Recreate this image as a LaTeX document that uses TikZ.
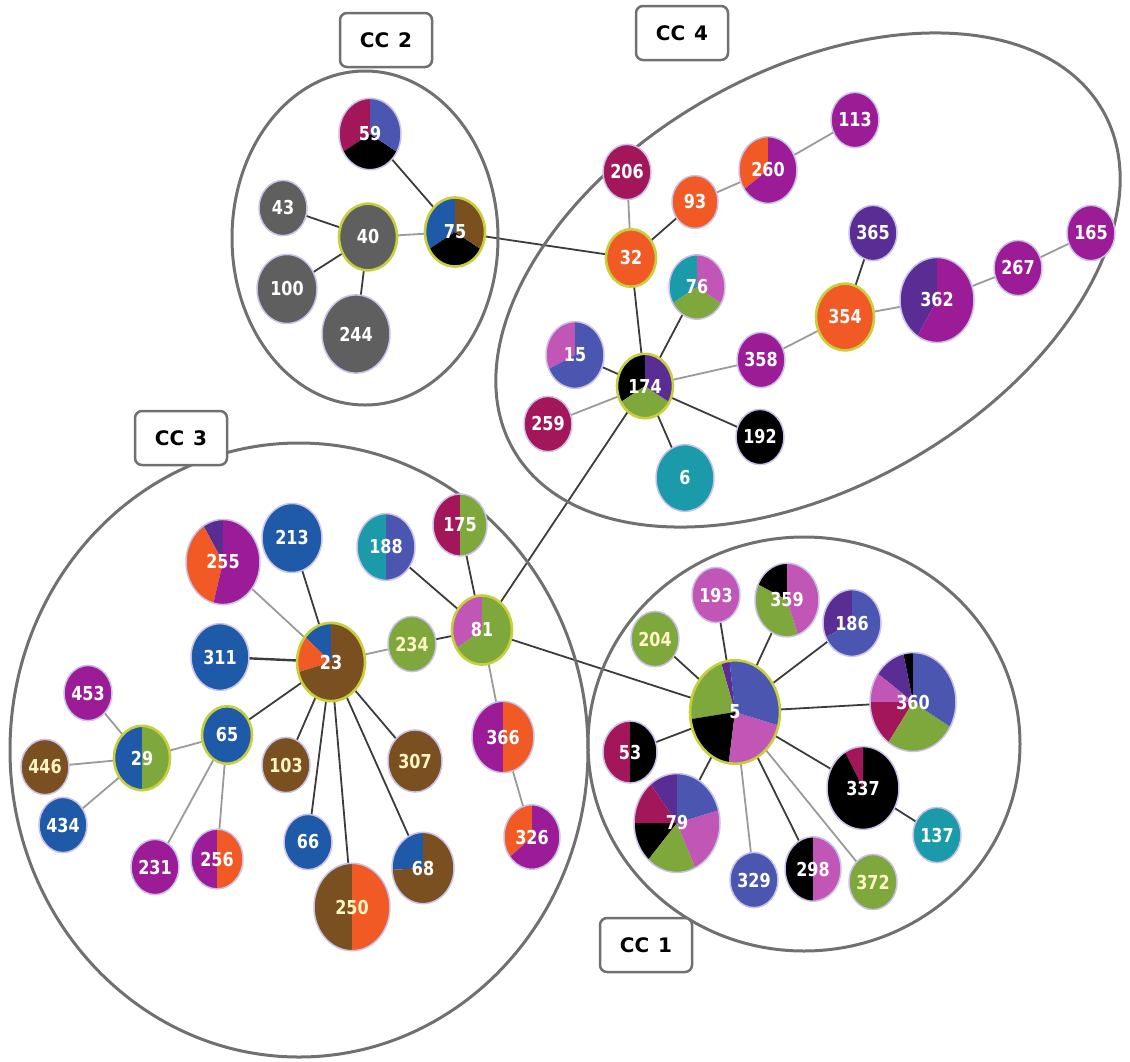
\documentclass[tikz,border=0pt]{standalone}
\usepackage{fontspec}
\setmainfont{DejaVu Sans}
\usetikzlibrary{shapes.geometric,backgrounds}
\definecolor{cgray}{HTML}{5F5F5F}
\definecolor{cpur}{HTML}{9C1C98}
\definecolor{ccrim}{HTML}{A3175A}
\definecolor{corg}{HTML}{F15A24}
\definecolor{cblu}{HTML}{4A56B0}
\definecolor{cdblu}{HTML}{1F5AA8}
\definecolor{cteal}{HTML}{1B9AA9}
\definecolor{cgrn}{HTML}{7EA83C}
\definecolor{cvio}{HTML}{5A2D94}
\definecolor{cpink}{HTML}{C156B6}
\definecolor{cbrn}{HTML}{7B5020}
\definecolor{dkline}{HTML}{3C3C3C}
\definecolor{ltline}{HTML}{9A9A9A}
\definecolor{ringc}{HTML}{C9C0EC}
\definecolor{yelc}{HTML}{C8CF3C}
\definecolor{grpc}{HTML}{707070}
\definecolor{creamc}{HTML}{FFF6C4}
\newcommand\yr{1.15}
\newcommand\crm[1]{\textcolor{creamc}{#1}}
\tikzset{
  edk/.style={draw=dkline, line width=1.8pt},
  elt/.style={draw=ltline, line width=1.8pt},
  ring/.style={draw=ringc, line width=1.5pt},
  hring/.style={draw=yelc, line width=2.6pt},
  lbl/.style={text=white, inner sep=0pt, font=\fontsize{16}{16}\selectfont\bfseries},
  grp/.style={draw=grpc, line width=3pt},
  ccbox/.style={draw=grpc, line width=2.5pt, rounded corners=7pt, fill=white,
    minimum width=92pt, minimum height=54pt, font=\fontsize{20}{20}\selectfont\bfseries}
}
\newcommand\pnode[7]{%
  \node[ellipse, inner sep=0pt, minimum width=#4*2pt, minimum height=#4*2.3pt] (#1) at (#2,-#3) {};
  \pgfmathsetmacro\rx{#4}\pgfmathsetmacro\ry{#4*\yr}%
  \foreach \a/\b/\c in {#6}{\fill[\c] (#1.center) -- ++(\a:\rx pt and \ry pt) arc[start angle=\a,end angle=\b,x radius=\rx pt,y radius=\ry pt] -- cycle;}
  \draw[#7] (#1.center) ellipse[x radius=\rx pt, y radius=\ry pt];
  \node[lbl] (#1l) at (#1.center) {\scalebox{1}[1.2]{#5}};
}
\begin{document}
\begin{tikzpicture}[x=1pt,y=1pt]
\useasboundingbox (0,0) rectangle (1130,-1061);
% groups
\draw[grp] (365,-238) ellipse[x radius=133, y radius=167];
\begin{scope}[shift={(808,-280)}, rotate=30]
\draw[grp] (0,0) ellipse[x radius=340, y radius=207];
\end{scope}
\draw[grp] (299,-750) ellipse[x radius=289, y radius=307];
\draw[grp] (804,-744) ellipse[x radius=216, y radius=207];
% labels
\node[ccbox] (cc2) at (386,-40) {CC\hspace{0.45em}2};
\node[ccbox] (cc4) at (682,-33) {CC\hspace{0.45em}4};
\node[ccbox] (cc3) at (181,-438) {CC\hspace{0.45em}3};
\node[ccbox] (cc1) at (646,-945) {CC\hspace{0.45em}1};
% CC2
\pnode{n59}{370}{134}{31}{59}{90/210/ccrim,210/330/black,330/450/cblu}{ring}
\pnode{n75}{455}{232}{30}{75}{90/210/cdblu,210/330/black,330/450/cbrn}{hring}
\pnode{n40}{368}{237}{29}{40}{0/360/cgray}{hring}
\pnode{n43}{283}{208}{24}{43}{0/360/cgray}{ring}
\pnode{n100}{287}{289}{30}{100}{0/360/cgray}{ring}
\pnode{n244}{356}{334}{34}{244}{0/360/cgray}{ring}
% CC4
\pnode{n113}{855}{120}{24}{113}{0/360/cpur}{ring}
\pnode{n206}{627}{172}{24}{206}{0/360/ccrim}{ring}
\pnode{n260}{768}{170}{29}{260}{90/215/corg,215/450/cpur}{ring}
\pnode{n93}{695}{202}{23}{93}{0/360/corg}{ring}
\pnode{n32}{631}{258}{25}{32}{0/360/corg}{hring}
\pnode{n365}{873}{233}{24}{365}{0/360/cvio}{ring}
\pnode{n165}{1091}{233}{24}{165}{0/360/cpur}{ring}
\pnode{n267}{1018}{268}{24}{267}{0/360/cpur}{ring}
\pnode{n362}{937}{300}{37}{362}{90/238/cvio,238/450/cpur}{ring}
\pnode{n354}{845}{317}{29}{354}{0/360/corg}{hring}
\pnode{n76}{697}{287}{28}{76}{90/210/cteal,210/330/cgrn,330/450/cpink}{ring}
\pnode{n15}{575}{355}{29}{15}{90/205/cpink,205/450/cblu}{ring}
\pnode{n358}{761}{360}{24}{358}{0/360/cpur}{ring}
\pnode{n174}{645}{386}{28}{174}{90/210/black,210/330/cgrn,330/450/cvio}{hring}
\pnode{n259}{548}{424}{24}{259}{0/360/ccrim}{ring}
\pnode{n192}{760}{437}{24}{192}{0/360/black}{ring}
\pnode{n6}{685}{478}{29}{6}{0/360/cteal}{ring}
% CC3
\pnode{n175}{460}{525}{27}{175}{90/270/ccrim,270/450/cgrn}{ring}
\pnode{n188}{386}{547}{29}{188}{90/270/cteal,270/450/cblu}{ring}
\pnode{n213}{292}{538}{30}{213}{0/360/cdblu}{ring}
\pnode{n255}{223}{562}{37}{255}{90/122/cvio,122/255/corg,255/450/cpur}{ring}
\pnode{n311}{220}{657}{29}{311}{0/360/cdblu}{ring}
\pnode{n23}{331}{662}{34}{23}{90/140/cdblu,140/195/corg,195/450/cbrn}{hring}
\pnode{n234}{412}{644}{24}{\crm{234}}{0/360/cgrn}{ring}
\pnode{n81}{482}{630}{30}{81}{90/212/cpink,212/450/cgrn}{hring}
\pnode{n453}{88}{693}{24}{453}{0/360/cpur}{ring}
\pnode{n65}{227}{735}{25}{65}{0/360/cdblu}{hring}
\pnode{n29}{142}{758}{28}{29}{90/270/cdblu,270/450/cgrn}{hring}
\pnode{n446}{45}{767}{24}{\crm{446}}{0/360/cbrn}{ring}
\pnode{n103}{286}{765}{24}{\crm{103}}{0/360/cbrn}{ring}
\pnode{n307}{415}{761}{27}{\crm{307}}{0/360/cbrn}{ring}
\pnode{n366}{503}{737}{31}{366}{90/270/cpur,270/450/corg}{ring}
\pnode{n434}{63}{825}{24}{434}{0/360/cdblu}{ring}
\pnode{n231}{155}{867}{24}{231}{0/360/cpur}{ring}
\pnode{n256}{217}{859}{26}{256}{90/270/cpur,270/450/corg}{ring}
\pnode{n66}{308}{842}{24}{66}{0/360/cdblu}{ring}
\pnode{n68}{423}{868}{31}{68}{90/183/cdblu,183/450/cbrn}{ring}
\pnode{n250}{352}{907}{38}{\crm{250}}{90/270/cbrn,270/450/corg}{ring}
\pnode{n326}{532}{837}{28}{326}{90/218/corg,218/450/cpur}{ring}
% CC1
\pnode{n193}{716}{595}{24}{193}{0/360/cpink}{ring}
\pnode{n359}{787}{600}{32}{359}{90/155/black,155/290/cgrn,290/450/cpink}{ring}
\pnode{n186}{852}{623}{29}{186}{90/205/cvio,205/450/cblu}{ring}
\pnode{n204}{655}{639}{24}{\crm{204}}{0/360/cgrn}{ring}
\pnode{n5}{735}{712}{45}{5}{97/108/cvio,108/188/cgrn,188/262/black,262/345/cpink,345/457/cblu}{hring}
\pnode{n360}{913}{702}{43}{360}{90/103/black,103/145/cvio,145/180/cpink,180/235/ccrim,235/330/cgrn,330/450/cblu}{ring}
\pnode{n53}{630}{752}{27}{53}{90/270/ccrim,270/450/black}{ring}
\pnode{n337}{863}{788}{36}{337}{90/120/ccrim,120/450/black}{ring}
\pnode{n79}{677}{823}{43}{79}{90/128/cvio,128/180/ccrim,180/228/black,228/295/cgrn,295/375/cpink,375/450/cblu}{ring}
\pnode{n137}{937}{835}{24}{137}{0/360/cteal}{ring}
\pnode{n329}{754}{880}{24}{329}{0/360/cblu}{ring}
\pnode{n298}{813}{869}{28}{298}{90/270/black,270/450/cpink}{ring}
\pnode{n372}{873}{882}{24}{\crm{372}}{0/360/cgrn}{ring}
% edges
\begin{scope}[on background layer]
\draw[edk] (n59) -- (n75);
\draw[edk] (n43) -- (n40);
\draw[elt] (n40) -- (n75);
\draw[edk] (n100) -- (n40);
\draw[edk] (n244) -- (n40);
\draw[edk] (n75) -- (n32);
\draw[elt] (n32) -- (n206);
\draw[edk] (n32) -- (n93);
\draw[elt] (n93) -- (n260);
\draw[elt] (n260) -- (n113);
\draw[edk] (n32) -- (n174);
\draw[edk] (n174) -- (n76);
\draw[edk] (n174) -- (n15);
\draw[elt] (n174) -- (n259);
\draw[elt] (n174) -- (n358);
\draw[edk] (n174) -- (n192);
\draw[edk] (n174) -- (n6);
\draw[elt] (n358) -- (n354);
\draw[edk] (n354) -- (n365);
\draw[elt] (n354) -- (n362);
\draw[elt] (n362) -- (n267);
\draw[elt] (n267) -- (n165);
\draw[edk] (n174) -- (n81);
\draw[edk] (n81) -- (n175);
\draw[edk] (n81) -- (n188);
\draw[edk] (n81) -- (n234);
\draw[elt] (n81) -- (n366);
\draw[edk] (n81) -- (n5);
\draw[elt] (n366) -- (n326);
\draw[elt] (n234) -- (n23);
\draw[edk] (n23) -- (n213);
\draw[elt] (n23) -- (n255);
\draw[edk, line width=2.4pt] (n23) -- (n311);
\draw[edk] (n23) -- (n65);
\draw[edk] (n23) -- (n103);
\draw[edk] (n23) -- (n66);
\draw[edk] (n23) -- (n250);
\draw[edk] (n23) -- (n68);
\draw[edk] (n23) -- (n307);
\draw[elt] (n65) -- (n29);
\draw[elt] (n65) -- (n231);
\draw[elt] (n65) -- (n256);
\draw[elt] (n29) -- (n453);
\draw[elt] (n29) -- (n446);
\draw[elt] (n29) -- (n434);
\draw[edk] (n5) -- (n193);
\draw[edk] (n5) -- (n204);
\draw[edk] (n5) -- (n359);
\draw[edk] (n5) -- (n186);
\draw[edk] (n5) -- (n360);
\draw[edk] (n5) -- (n53);
\draw[edk] (n5) -- (n79);
\draw[elt] (n5) -- (n329);
\draw[edk] (n5) -- (n298);
\draw[elt] (n5) -- (n372);
\draw[edk] (n5) -- (n337);
\draw[edk] (n337) -- (n137);
\end{scope}
\end{tikzpicture}
\end{document}
